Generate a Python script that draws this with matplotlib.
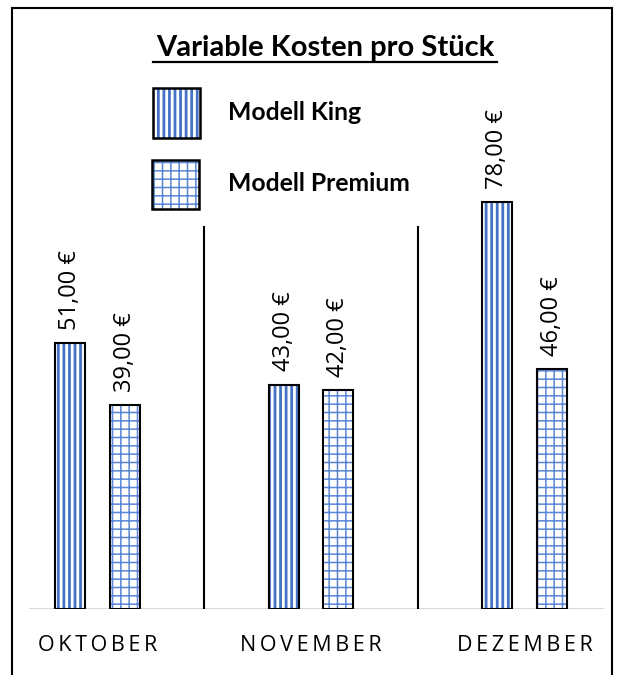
import matplotlib.pyplot as plt
from matplotlib.patches import Rectangle
from matplotlib.lines import Line2D
import numpy as np

months = ["OKTOBER", "NOVEMBER", "DEZEMBER"]
king = [51.0, 43.0, 78.0]
premium = [39.0, 42.0, 46.0]
series_names = ["Modell King", "Modell Premium"]

blue = "#4472C4"
light_blue = "#5b86d6"
plt.rcParams['font.family'] = ['Open Sans', 'DejaVu Sans']

W, H = 621, 675
fig = plt.figure(figsize=(W / 100, H / 100), dpi=100)

def fx(px):
    return px / W

def fy(py):
    return 1 - py / H

top_px, base_px, left_px, right_px = 100, 609, 29, 604
ax = fig.add_axes([fx(left_px), fy(base_px), fx(right_px - left_px), (base_px - top_px) / H])
ax.set_xlim(-0.32, 2.372)
ax.set_ylim(0, (base_px - top_px) / 5.22)

x = np.arange(len(months))
w = 0.14
off = 0.1275
styles = [("|||", blue, 2.0), ("++", light_blue, 1.1)]

def draw(xs, vals, style):
    hatch, hc, hlw = style
    with plt.rc_context({'hatch.linewidth': hlw}):
        ax.bar(xs, vals, w, color="white", edgecolor=hc, hatch=hatch, linewidth=0, zorder=2)
    ax.bar(xs, vals, w, color="none", edgecolor="black", linewidth=1.5, zorder=3)

draw(x - off, king, styles[0])
draw(x + off, premium, styles[1])

def fmt(v):
    return f"{v:.2f}".replace(".", ",") + " €"

for xs, vals in ((x - off, king), (x + off, premium)):
    for xi, v in zip(xs, vals):
        ax.text(xi, v + 2.5, fmt(v), rotation=90, ha="center", va="bottom", fontsize=17)

ax.axhline(0, color="#d9d9d9", lw=1.5, zorder=1)
ax.vlines([0.5, 1.5], 0, 73.4, color="black", lw=1.5, zorder=1)

for s in ax.spines.values():
    s.set_visible(False)
ax.set_yticks([])
ax.set_xticks(x)
ax.set_xticklabels(["\u2009".join(m) for m in months], fontsize=15.5)
ax.tick_params(axis="x", length=0, pad=19)

# title and legend
fig.text(fx(325), fy(56), "Variable Kosten pro Stück", ha="center", va="baseline",
         fontsize=21, fontweight="bold", family=["Lato", "DejaVu Sans"])
fig.add_artist(Line2D([fx(153), fx(497)], [fy(62), fy(62)], color="black", lw=1.6))

legend_boxes = [(153, 88, 200, 138), (152, 160, 199, 209)]
for (x0, y0, x1, y1), name, st in zip(legend_boxes, series_names, styles):
    with plt.rc_context({'hatch.linewidth': st[2]}):
        r = Rectangle((fx(x0), fy(y1)), fx(x1 - x0), (y1 - y0) / H, transform=fig.transFigure,
                      facecolor="white", edgecolor=st[1], hatch=st[0], linewidth=0)
    fig.add_artist(r)
    r2 = Rectangle((fx(x0), fy(y1)), fx(x1 - x0), (y1 - y0) / H, transform=fig.transFigure,
                   facecolor="none", edgecolor="black", linewidth=1.8)
    fig.add_artist(r2)
    fig.text(fx(228), fy((y0 + y1) / 2 - 1), name, ha="left", va="center", fontsize=17.8,
             fontweight="bold", family=["Lato", "DejaVu Sans"])

# outer frame
for xs_, ys_ in (([12, 12], [8, 680]), ([612, 612], [8, 680]), ([12, 612], [8, 8])):
    fig.add_artist(Line2D([fx(v) for v in xs_], [fy(v) for v in ys_], color="black", lw=1.5))

fig.savefig("out.png", dpi=100)
